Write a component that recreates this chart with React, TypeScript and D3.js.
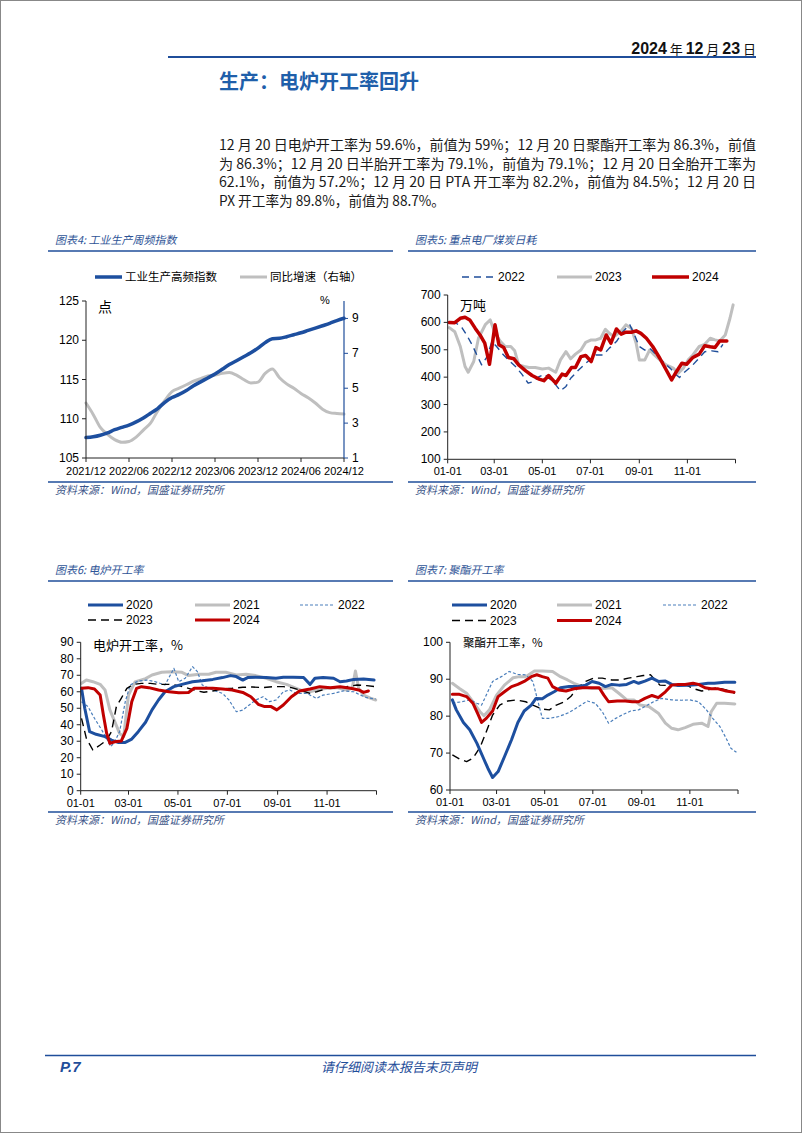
import React from 'react';
import * as d3 from 'd3';

type Pt = [number, number];

// ---------- Page text ----------
const reportDate = ['2024', ' 年 ', '12', ' 月 ', '23', ' 日'];
const sectionTitle = '生产：电炉开工率回升';
const paragraphLines = [
  '12 月 20 日电炉开工率为 59.6%，前值为 59%；12 月 20 日聚酯开工率为 86.3%，前值',
  '为 86.3%；12 月 20 日半胎开工率为 79.1%，前值为 79.1%；12 月 20 日全胎开工率为',
  '62.1%，前值为 57.2%；12 月 20 日 PTA 开工率为 82.2%，前值为 84.5%；12 月 20 日',
  'PX 开工率为 89.8%，前值为 88.7%。',
];
const sourceText = '资料来源：Wind，国盛证券研究所';

// ---------- Chart 4: 工业生产周频指数 ----------
const idxMonthLabels = ['2021/12', '2022/06', '2022/12', '2023/06', '2023/12', '2024/06', '2024/12'];
const idxLevel = [107.6, 107.7, 107.9, 108.2, 108.6, 108.9, 109.2, 109.6, 110.1, 110.7, 111.3, 112.1, 112.7, 113.1, 113.6, 114.2, 114.7, 115.2, 115.7, 116.3, 116.9, 117.4, 117.9, 118.4, 119.0, 119.7, 120.2, 120.25, 120.45, 120.7, 120.95, 121.25, 121.55, 121.85, 122.15, 122.5, 122.8];
const idxYoY = [4.15, 3.5, 2.75, 2.35, 2.05, 1.9, 1.95, 2.2, 2.6, 3.0, 3.7, 4.3, 4.8, 5.0, 5.2, 5.4, 5.55, 5.7, 5.75, 5.85, 5.9, 5.75, 5.5, 5.3, 5.35, 5.85, 6.1, 5.6, 5.25, 5.0, 4.7, 4.45, 4.15, 3.8, 3.6, 3.55, 3.52];
const idxLeftTicks = [105, 110, 115, 120, 125];
const idxRightTicks = [1, 3, 5, 7, 9];

// ---------- shared date axis ----------
const dayTickLabels = ['01-01', '03-01', '05-01', '07-01', '09-01', '11-01'];
const dayTickValues = [0, 59, 120, 181, 243, 304];

// ---------- Chart 5: 重点电厂煤炭日耗 (万吨) ----------
const coal2022: Pt[] = [[5,603],[11,597],[18,581],[24,554],[31,518],[37,481],[43,445],[50,475],[56,530],[62,512],[69,487],[77,463],[86,439],[94,411],[102,378],[109,384],[116,402],[123,411],[131,390],[137,372],[143,350],[150,366],[156,396],[165,423],[173,445],[180,463],[188,481],[197,481],[205,506],[214,530],[222,566],[231,591],[237,554],[243,512],[250,499],[256,506],[265,481],[273,457],[282,433],[290,408],[294,399],[301,420],[309,439],[318,467],[326,493],[335,496],[343,493],[349,520]];
const coal2023: Pt[] = [[2,581],[9,566],[16,512],[22,439],[26,418],[33,457],[39,542],[48,593],[54,609],[60,560],[67,530],[73,512],[80,512],[85,496],[90,445],[97,439],[103,435],[111,435],[120,430],[128,433],[137,418],[143,463],[150,493],[156,467],[162,484],[169,499],[175,527],[182,536],[188,536],[194,542],[200,575],[205,560],[211,548],[220,569],[226,591],[233,578],[239,524],[243,463],[250,463],[256,499],[262,481],[269,463],[277,445],[286,433],[292,414],[299,433],[305,463],[311,481],[319,512],[326,520],[333,542],[339,536],[345,532],[352,554],[358,615],[362,664]];
const coal2024: Pt[] = [[2,600],[9,599],[16,615],[22,619],[28,609],[35,578],[41,554],[47,524],[53,447],[60,591],[65,518],[71,508],[77,472],[84,467],[90,445],[99,423],[107,406],[116,393],[122,387],[128,406],[137,378],[145,411],[150,406],[157,435],[162,435],[169,475],[175,479],[182,457],[188,508],[194,499],[201,554],[207,524],[214,576],[220,557],[226,564],[233,564],[239,569],[245,560],[252,542],[260,512],[269,469],[277,427],[284,390],[290,420],[297,451],[303,447],[311,472],[319,484],[326,515],[333,511],[339,508],[345,532],[354,532]];
const coalTicks = [100, 200, 300, 400, 500, 600, 700];

// ---------- Chart 6: 电炉开工率 (%) ----------
const eaf2020: Pt[] = [[1,62.1],[5,50],[11,35.8],[19,34.2],[30,32.8],[38,30.7],[46,29.3],[55,29.3],[63,31.3],[71,35.8],[80,41.5],[88,49],[96,55],[104,60],[115,63.1],[125,64.5],[138,66.1],[150,66.7],[163,67.5],[175,68.6],[185,69.8],[192,69.2],[200,67.1],[206,68.6],[216,68.8],[229,68.6],[241,68.2],[250,68.8],[262,68.8],[275,68.6],[283,64.5],[289,68.2],[299,68.6],[312,68.2],[320,66.1],[328,66.5],[337,67.5],[349,67.7],[362,67.1]];
const eaf2021: Pt[] = [[1,65.1],[7,67.1],[15,66.1],[24,64.5],[30,61.1],[36,49],[42,41.9],[48,34.8],[53,32.8],[59,58],[67,66],[80,68],[88,70.2],[100,71.8],[112,72.2],[125,71.8],[133,69.8],[146,70.6],[158,70.6],[167,71.8],[179,71.8],[192,70.2],[204,70.6],[216,69.8],[229,68.2],[241,66.1],[254,64.5],[266,62.1],[279,59.6],[291,61.1],[304,62.1],[316,62.5],[328,61.1],[335,62.1],[339,72.6],[343,62.1],[349,58],[358,56],[364,55]];
const eaf2022: Pt[] = [[1,54],[9,51],[17,43.9],[26,36.8],[32,31.7],[37,26.7],[42,29.7],[48,35.8],[55,54],[61,64.1],[71,66.5],[82,67.1],[92,66.1],[104,64.1],[115,74.2],[121,66.1],[129,68.2],[138,75.2],[144,72.2],[150,64.1],[163,61.1],[175,59],[183,55],[192,47.9],[200,48.9],[208,52],[216,55],[225,57],[233,54],[241,55],[250,60],[258,61.1],[266,59],[279,59],[291,56],[299,58],[312,59],[324,60.5],[337,60],[345,58],[353,56.4],[364,55.6]];
const eaf2023: Pt[] = [[1,43.9],[7,31.7],[15,24.7],[24,27.7],[32,30.7],[38,35.8],[44,51],[50,56],[57,62.1],[65,64.5],[75,65.1],[86,65.1],[96,64.5],[109,64.5],[121,63.7],[133,62.1],[144,60.5],[152,59.7],[163,60.5],[175,61.7],[187,62.1],[200,62.7],[212,62.9],[225,62.5],[237,63.1],[250,63.1],[260,62.5],[270,61.1],[283,59],[291,60],[304,62.1],[316,62.5],[328,63.1],[341,64.1],[353,63.7],[364,63.1]];
const eaf2024: Pt[] = [[1,62.1],[9,62.5],[17,61.7],[24,58],[28,45.9],[32,34.8],[36,28.7],[42,29.7],[50,30.1],[57,37.8],[63,54],[69,62.1],[75,63.1],[84,62.5],[96,61.1],[109,60],[121,59.4],[133,59.6],[140,62.1],[150,62.1],[163,62.1],[175,61.7],[187,61.1],[200,59.6],[210,57],[219,52.4],[227,51],[235,51],[242,49],[250,52],[260,57],[270,60.5],[283,61.7],[295,63.1],[308,62.5],[320,63.1],[333,62.1],[343,61.1],[349,59.6],[355,60.5]];
const eafTicks = [0, 10, 20, 30, 40, 50, 60, 70, 80, 90];

// ---------- Chart 7: 聚酯开工率 (%) ----------
const pet2020: Pt[] = [[3,84.4],[8,81.7],[17,78.3],[25,76.3],[34,72.7],[42,68.8],[48,65.9],[54,63.4],[61,65],[69,69],[78,73.6],[86,78.3],[94,81.4],[103,83],[109,84.8],[117,84.7],[124,85.7],[132,86.6],[140,87.7],[151,88],[161,88],[172,88.4],[180,89.4],[189,88.9],[197,88],[205,88.6],[214,88.4],[224,88.6],[233,89.4],[239,88.9],[247,89.5],[256,90.3],[264,89.4],[273,89.5],[281,88.6],[289,88.3],[302,88.4],[315,88.6],[327,88.9],[335,88.9],[348,89.2],[361,89.2]];
const pet2021: Pt[] = [[3,88.9],[12,87.5],[21,86.2],[29,83.9],[38,81.2],[43,80.1],[50,81.7],[59,85.7],[69,88.4],[80,90.4],[88,90.7],[96,90.7],[107,92.2],[117,92.2],[130,92.1],[140,90.7],[149,89.8],[157,88.9],[168,88],[180,87.5],[193,87.5],[205,87.7],[214,86.2],[224,84.4],[233,84.4],[241,83],[252,82.6],[264,80.8],[273,78.1],[281,76.7],[289,76.3],[298,76.9],[308,77.8],[319,78.1],[327,77.2],[331,81.2],[338,83.5],[348,83.5],[361,83.3]];
const pet2022: Pt[] = [[3,83.5],[15,83.9],[25,84.4],[34,83.5],[40,83],[46,85.7],[54,89.4],[65,90.7],[75,92.1],[86,91.3],[96,91.2],[105,89.4],[111,84.4],[117,79.4],[126,79.4],[138,79.9],[151,81],[163,82.6],[174,84.1],[184,83.5],[193,81.2],[201,78.1],[210,79.4],[218,80.3],[229,81.4],[239,81.7],[247,82.6],[258,83.9],[268,84.8],[281,84.4],[293,84.3],[304,84.4],[315,83.9],[325,81.7],[333,79.4],[342,77.2],[350,74],[356,71.3],[363,70.2]];
const pet2023: Pt[] = [[3,69.5],[12,68.4],[21,67.7],[29,68.6],[38,71.5],[46,75.8],[54,80.3],[63,83],[73,84.1],[84,84.4],[96,83.9],[105,83],[117,81.9],[126,81.7],[134,82.9],[145,83.9],[153,85.3],[161,87.5],[172,89.4],[182,90.3],[193,90.3],[205,89.8],[216,89.8],[226,90.3],[237,90.7],[245,91],[254,91.2],[258,90.3],[266,88.4],[277,88.3],[289,88.4],[298,88.6],[308,87.5],[319,86.8],[327,87.1],[338,87.7],[350,87.1],[361,86.2]];
const pet2024: Pt[] = [[3,85.9],[12,85.9],[21,85.3],[29,83.5],[36,80.3],[40,78.3],[46,79.4],[54,81.4],[61,85.3],[69,86.6],[78,88],[86,88.6],[94,89.4],[103,90.7],[110,91.2],[117,90.7],[124,90.3],[130,88],[138,87.1],[147,86.8],[157,87.4],[168,87.7],[180,87.7],[189,87.7],[195,85.7],[201,83.9],[212,84.1],[222,84.1],[231,83.9],[239,83.9],[247,84.8],[256,85.6],[264,85],[273,86.6],[281,88.4],[289,88.6],[298,88.6],[308,88.9],[315,88.6],[323,87.7],[331,87.4],[340,87.4],[350,86.8],[360,86.5]];
const petTicks = [60, 70, 80, 90, 100];

// ---------- styles ----------
const LATIN = "'Liberation Sans', Arial, sans-serif";
const CJK = "'Noto Sans CJK SC', 'Noto Sans', sans-serif";
const NAVY = '#1f4e9a';
const BLUE = '#1d4f9f';
const GRAY = '#bfbfbf';
const RED = '#c00000';
const LIGHTBLUE = '#4a7ebb';
const TITLEBLUE = '#2f5597';

interface SeriesDef {
  name: string;
  data: Pt[];
  color: string;
  width: number;
  dash?: string;
}

interface LegendDef {
  name: string;
  color: string;
  width: number;
  dash?: string;
  x: number;
  y: number;
  len: number;
}

function SlantText({ x, y, size, fill, children, anchor }: { x: number; y: number; size: number; fill: string; children: React.ReactNode; anchor?: string }) {
  return (
    <text transform={`translate(${x},${y}) skewX(-13)`} textAnchor={anchor as any} fontFamily={CJK} fontSize={size} fill={fill}>
      {children}
    </text>
  );
}

function Panel({ x0, x1, top, title }: { x0: number; x1: number; top: number; title: string }) {
  return (
    <g>
      <SlantText x={x0 + 7} y={top + 4} size={11} fill={TITLEBLUE}>{title}</SlantText>
      <line x1={x0} x2={x1} y1={top + 11} y2={top + 11} stroke={NAVY} strokeWidth={1.3} />
      <line x1={x0} x2={x1} y1={top + 242} y2={top + 242} stroke={NAVY} strokeWidth={1.3} />
      <SlantText x={x0 + 7} y={top + 254} size={11} fill="#3b5488">{sourceText}</SlantText>
    </g>
  );
}

function Legend({ items }: { items: LegendDef[] }) {
  return (
    <g>
      {items.map((it) => (
        <g key={it.name}>
          <line x1={it.x} x2={it.x + it.len} y1={it.y} y2={it.y} stroke={it.color} strokeWidth={it.width} strokeDasharray={it.dash} />
          <text x={it.x + it.len + 3} y={it.y + 4} fontFamily={/^\d{4}$/.test(it.name) ? LATIN : CJK} fontSize={/^\d{4}$/.test(it.name) ? 12 : 11.5} fill="#000">
            {it.name}
          </text>
        </g>
      ))}
    </g>
  );
}

function YearChart(props: {
  x0: number; x1: number; yTop: number; yBot: number;
  yDomain: [number, number]; yTicks: number[];
  series: SeriesDef[]; legend: LegendDef[];
  unit: string; unitX: number; unitY: number; unitSize: number;
}) {
  const { x0, x1, yTop, yBot, yDomain, yTicks, series, legend, unit, unitX, unitY, unitSize } = props;
  const x = d3.scaleLinear().domain([0, 365]).range([x0, x1]);
  const y = d3.scaleLinear().domain(yDomain).range([yBot, yTop]);
  const line = d3.line<Pt>().x((d) => x(d[0])).y((d) => y(d[1])).curve(d3.curveLinear);
  const allTicks = [...dayTickValues, 365];
  return (
    <g>
      <Legend items={legend} />
      {series.map((s) => (
        <path key={s.name} d={line(s.data) || ''} fill="none" stroke={s.color} strokeWidth={s.width} strokeDasharray={s.dash} strokeLinejoin="round" strokeLinecap={s.dash ? 'butt' : 'round'} />
      ))}
      <line x1={x0} x2={x0} y1={yTop} y2={yBot} stroke="#222" strokeWidth={1} />
      <line x1={x0} x2={x1} y1={yBot} y2={yBot} stroke="#222" strokeWidth={1} />
      {yTicks.map((t) => (
        <g key={t}>
          <line x1={x0 - 4} x2={x0} y1={y(t)} y2={y(t)} stroke="#222" />
          <text x={x0 - 7} y={y(t) + 4} textAnchor="end" fontFamily={LATIN} fontSize={12} fill="#000">{t}</text>
        </g>
      ))}
      {allTicks.map((t) => (
        <line key={t} x1={x(t)} x2={x(t)} y1={yBot} y2={yBot + 4} stroke="#222" />
      ))}
      {dayTickValues.map((t, i) => (
        <text key={t} x={x(t)} y={yBot + 16} textAnchor="middle" fontFamily={LATIN} fontSize={11} fill="#000">{dayTickLabels[i]}</text>
      ))}
      <text x={unitX} y={unitY} fontFamily={CJK} fontSize={unitSize} fill="#000">{unit}</text>
    </g>
  );
}

function IndexChart() {
  const x = d3.scaleLinear().domain([0, 36]).range([86, 344]);
  const yL = d3.scaleLinear().domain([105, 125]).range([458, 301]);
  const yR = d3.scaleLinear().domain([1, 10]).range([458, 301]);
  const lvl = d3.line<number>().x((_, i) => x(i)).y((d) => yL(d)).curve(d3.curveMonotoneX);
  const yoy = d3.line<number>().x((_, i) => x(i)).y((d) => yR(d)).curve(d3.curveMonotoneX);
  return (
    <g>
      <Legend items={[
        { name: '工业生产高频指数', color: BLUE, width: 3.5, x: 95, y: 277, len: 27 },
        { name: '同比增速（右轴）', color: GRAY, width: 3, x: 240, y: 277, len: 27 },
      ]} />
      <path d={yoy(idxYoY) || ''} fill="none" stroke={GRAY} strokeWidth={3} strokeLinecap="round" />
      <path d={lvl(idxLevel) || ''} fill="none" stroke={BLUE} strokeWidth={3.5} strokeLinecap="round" />
      <line x1={86} x2={86} y1={301} y2={458} stroke="#222" />
      <line x1={86} x2={344} y1={458} y2={458} stroke="#222" />
      <line x1={344} x2={344} y1={301} y2={458} stroke={NAVY} strokeWidth={1.2} />
      {idxLeftTicks.map((t) => (
        <g key={t}>
          <line x1={82} x2={86} y1={yL(t)} y2={yL(t)} stroke="#222" />
          <text x={79} y={yL(t) + 4} textAnchor="end" fontFamily={LATIN} fontSize={12}>{t}</text>
        </g>
      ))}
      {idxRightTicks.map((t) => (
        <g key={t}>
          <line x1={344} x2={348} y1={yR(t)} y2={yR(t)} stroke={NAVY} />
          <text x={352} y={yR(t) + 4} fontFamily={LATIN} fontSize={12}>{t}</text>
        </g>
      ))}
      {idxMonthLabels.map((lab, i) => (
        <g key={lab}>
          <line x1={x(i * 6)} x2={x(i * 6)} y1={458} y2={462} stroke="#222" />
          <text x={x(i * 6)} y={475} textAnchor="middle" fontFamily={LATIN} fontSize={11}>{lab}</text>
        </g>
      ))}
      <text x={98} y={312} fontFamily={CJK} fontSize={14}>点</text>
      <text x={320} y={304} fontFamily={LATIN} fontSize={11}>%</text>
    </g>
  );
}

export default function App() {
  const legendRows = (left: number, y1: number, y2: number, dx: number[]) => [
    { name: '2020', color: BLUE, width: 3, x: left + dx[0], y: y1, len: 35 },
    { name: '2021', color: GRAY, width: 3, x: left + dx[1], y: y1, len: 35 },
    { name: '2022', color: LIGHTBLUE, width: 1.2, dash: '3,2', x: left + dx[2], y: y1, len: 35 },
    { name: '2023', color: '#000', width: 1.4, dash: '8,5', x: left + dx[0], y: y2, len: 35 },
    { name: '2024', color: RED, width: 3, x: left + dx[1], y: y2, len: 35 },
  ];
  return (
    <svg width={802} height={1133} style={{ position: 'absolute', left: 0, top: 0, background: '#fff' }}>
      <rect x={0.5} y={0.5} width={801} height={1132} fill="#fff" stroke="#888" />
      {/* header */}
      <text x={756} y={54} textAnchor="end" fontFamily={CJK} fontSize={15} fill="#111">
        {reportDate.map((s, i) => (
          <tspan key={i} fontWeight={i % 2 === 0 ? 'bold' : 'normal'} fontFamily={i % 2 === 0 ? LATIN : CJK} fontSize={i % 2 === 0 ? 16 : 13}>{s}</tspan>
        ))}
      </text>
      <line x1={168} x2={756} y1={57} y2={57} stroke={NAVY} strokeWidth={2} />
      <text x={219} y={89} fontFamily={CJK} fontSize={20} fontWeight="bold" fill="#1f5faa" textLength={200} lengthAdjust="spacingAndGlyphs">
        {sectionTitle}
      </text>
      {paragraphLines.map((ln, i) => (
        <text key={i} x={219} y={150 + i * 18.5} fontFamily={CJK} fontSize={14} fill="#1a1a1a"
          textLength={i < 3 ? 537 : 226} lengthAdjust="spacingAndGlyphs">
          {ln}
        </text>
      ))}

      {/* panels */}
      <Panel x0={48} x1={393} top={240} title="图表4:  工业生产周频指数" />
      <Panel x0={408} x1={756} top={240} title="图表5:  重点电厂煤炭日耗" />
      <Panel x0={48} x1={393} top={570} title="图表6:  电炉开工率" />
      <Panel x0={408} x1={756} top={570} title="图表7:  聚酯开工率" />

      <IndexChart />

      <YearChart
        x0={447.7} x1={735.5} yTop={295} yBot={459.3} yDomain={[100, 700]} yTicks={coalTicks}
        series={[
          { name: '2023', data: coal2023, color: GRAY, width: 3 },
          { name: '2022', data: coal2022, color: NAVY, width: 1.4, dash: '7,5' },
          { name: '2024', data: coal2024, color: RED, width: 3.5 },
        ]}
        legend={[
          { name: '2022', color: NAVY, width: 1.4, dash: '7,5', x: 462, y: 277, len: 33 },
          { name: '2023', color: GRAY, width: 3, x: 557, y: 277, len: 35 },
          { name: '2024', color: RED, width: 3.5, x: 652, y: 277, len: 37 },
        ]}
        unit="万吨" unitX={460} unitY={310} unitSize={13}
      />

      <YearChart
        x0={80.7} x1={376.5} yTop={642.3} yBot={790.7} yDomain={[0, 90]} yTicks={eafTicks}
        series={[
          { name: '2021', data: eaf2021, color: GRAY, width: 3 },
          { name: '2022', data: eaf2022, color: LIGHTBLUE, width: 1.2, dash: '3,2' },
          { name: '2023', data: eaf2023, color: '#000', width: 1.4, dash: '8,5' },
          { name: '2020', data: eaf2020, color: BLUE, width: 3 },
          { name: '2024', data: eaf2024, color: RED, width: 3 },
        ]}
        legend={legendRows(88, 605, 620, [0, 107, 212])}
        unit="电炉开工率，%" unitX={93} unitY={650} unitSize={13}
      />

      <YearChart
        x0={450} x1={738} yTop={642.3} yBot={790} yDomain={[60, 100]} yTicks={petTicks}
        series={[
          { name: '2021', data: pet2021, color: GRAY, width: 3 },
          { name: '2022', data: pet2022, color: LIGHTBLUE, width: 1.2, dash: '3,2' },
          { name: '2023', data: pet2023, color: '#000', width: 1.4, dash: '8,5' },
          { name: '2020', data: pet2020, color: BLUE, width: 3 },
          { name: '2024', data: pet2024, color: RED, width: 3 },
        ]}
        legend={legendRows(452, 605, 620.5, [0, 105, 211])}
        unit="聚酯开工率，%" unitX={463} unitY={647} unitSize={11.5}
      />

      {/* footer */}
      <line x1={45} x2={756} y1={1055.5} y2={1055.5} stroke={NAVY} strokeWidth={1.5} />
      <text x={60} y={1072} fontFamily={LATIN} fontSize={15} fontWeight="bold" fontStyle="italic" fill={NAVY}>P.7</text>
      <SlantText x={399} y={1072} size={13} fill={NAVY} anchor="middle">请仔细阅读本报告末页声明</SlantText>
    </svg>
  );
}
